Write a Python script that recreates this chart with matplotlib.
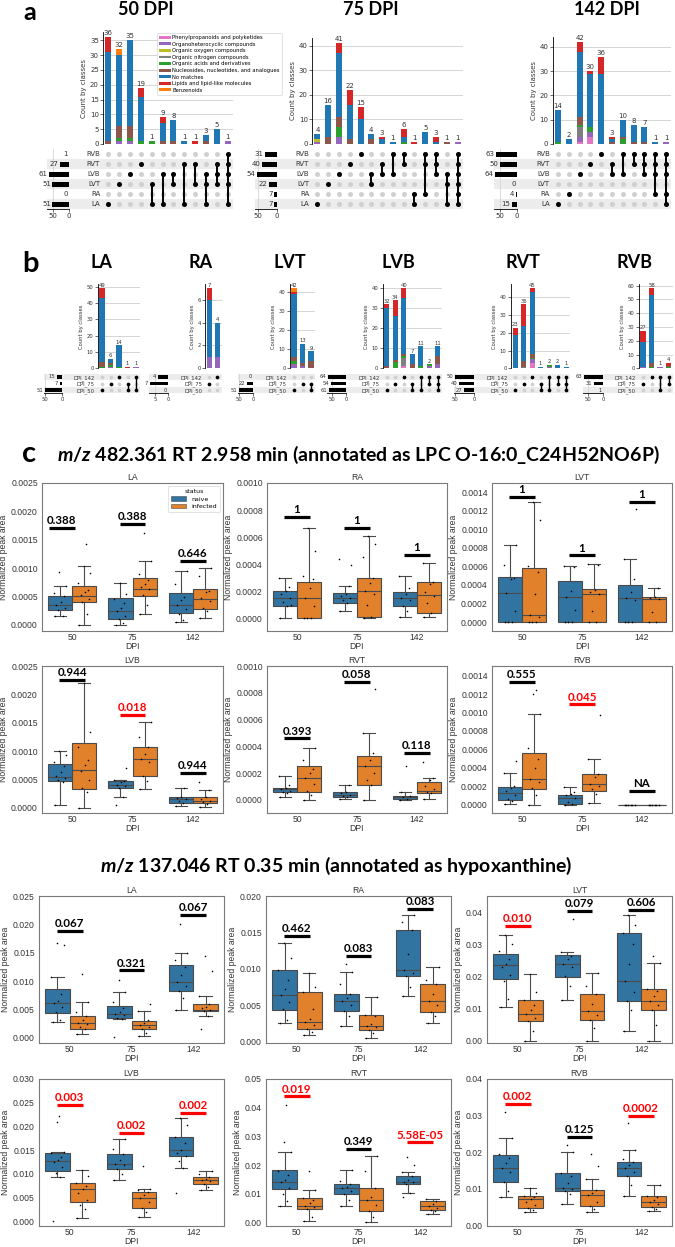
import numpy as np
import matplotlib.pyplot as plt
from matplotlib.patches import Patch, Rectangle

plt.rcParams['font.family'] = ['DejaVu Sans']
plt.rcParams['mathtext.fontset'] = 'custom'
plt.rcParams['mathtext.it'] = 'Lato:italic:bold'
plt.rcParams['mathtext.rm'] = 'Lato:bold'

# ---------------- data: class composition (upset plots) ----------------
cats = ['Phenylpropanoids and polyketides', 'Organoheterocyclic compounds',
        'Organic oxygen compounds', 'Organic nitrogen compounds',
        'Organic acids and derivatives', 'Nucleosides, nucleotides, and analogues',
        'No matches', 'Lipids and lipid-like molecules', 'Benzenoids']
cat_colors = ['#e377c2', '#9467bd', '#bcbd22', '#7f7f7f', '#2ca02c',
              '#8c564b', '#1f77b4', '#d62728', '#ff7f0e']

tissue_rows = ['RVB', 'RVT', 'LVB', 'LVT', 'RA', 'LA']
dpi_rows = ['DPI_142', 'DPI_75', 'DPI_50']

a50_cols = [['LA'], ['LVT'], ['LVB'], ['RVT'], ['LVT', 'LA'], ['LVB', 'LA'],
            ['LVB', 'LVT'], ['RVT', 'LA'], ['RVT', 'LVT'], ['LVB', 'LVT', 'LA'],
            ['RVT', 'LVB', 'LVT'], ['RVB', 'RVT', 'LVB', 'LVT', 'LA']]
a50_sizes = [1, 27, 61, 51, 0, 51]
a50_stack = {
    'Organoheterocyclic compounds': [0, 1, 1, 0, 0, 0, 0, 0, 0, 0, 0, 1],
    'Organic acids and derivatives': [0, 1, 1, 1, 1, 0, 0, 0, 0, 0, 0, 0],
    'Nucleosides, nucleotides, and analogues': [1, 4, 4, 0, 0, 1, 1, 0, 0, 1, 0, 0],
    'No matches': [30, 24, 29, 15, 0, 6, 7, 1, 0, 2, 5, 0],
    'Lipids and lipid-like molecules': [5, 0, 0, 3, 0, 2, 0, 0, 1, 0, 0, 0],
    'Benzenoids': [0, 2, 0, 0, 0, 0, 0, 0, 0, 0, 0, 0],
}

a75_cols = [['LA'], ['LVT'], ['LVB'], ['RVT'], ['RVB'], ['LVB', 'LVT'], ['RVT', 'LVB'],
            ['RVB', 'LVB'], ['RVB', 'RVT'], ['RA', 'LA'], ['RVB', 'RVT', 'RA'],
            ['RVB', 'RVT', 'LVB'], ['LVB', 'LVT', 'LA'],
            ['RVB', 'RVT', 'LVB', 'LVT', 'RA', 'LA']]
a75_sizes = [31, 40, 54, 22, 7, 7]
a75_stack = {
    'Organoheterocyclic compounds': [1, 0, 3, 0, 0, 0, 0, 0, 0, 0, 0, 0, 0, 1],
    'Organic oxygen compounds': [1, 0, 0, 0, 0, 0, 0, 0, 0, 0, 0, 0, 0, 0],
    'Organic acids and derivatives': [0, 0, 4, 0, 0, 0, 0, 0, 1, 0, 0, 0, 0, 0],
    'Nucleosides, nucleotides, and analogues': [0, 3, 4, 2, 0, 2, 0, 0, 0, 0, 0, 0, 1, 0],
    'No matches': [2, 13, 26, 14, 10, 2, 2, 1, 2, 0, 5, 1, 0, 0],
    'Lipids and lipid-like molecules': [0, 0, 4, 6, 5, 0, 1, 0, 3, 1, 0, 2, 0, 0],
}

a142_cols = [['LA'], ['RA'], ['LVB'], ['RVT'], ['RVB'], ['RVT', 'LVB'], ['RVB', 'LVB'],
             ['RVB', 'RVT'], ['RVB', 'RVT', 'LVB'], ['RVB', 'RVT', 'LVB', 'RA'],
             ['RVB', 'RVT', 'LVB', 'RA', 'LA']]
a142_sizes = [63, 50, 64, 0, 4, 15]
a142_stack = {
    'Phenylpropanoids and polyketides': [0, 0, 1, 3, 0, 0, 0, 0, 0, 0, 0],
    'Organoheterocyclic compounds': [0, 0, 2, 2, 0, 0, 0, 0, 0, 0, 1],
    'Organic nitrogen compounds': [0, 0, 4, 0, 0, 0, 0, 0, 0, 0, 0],
    'Organic acids and derivatives': [1, 0, 1, 2, 0, 0, 2, 0, 0, 0, 0],
    'Nucleosides, nucleotides, and analogues': [0, 0, 3, 0, 0, 1, 1, 1, 1, 0, 0],
    'No matches': [13, 2, 27, 22, 29, 1, 7, 7, 6, 1, 0],
    'Lipids and lipid-like molecules': [0, 0, 4, 1, 7, 1, 0, 0, 0, 0, 0],
}

b_cols = {
    'LA': [['DPI_50'], ['DPI_75'], ['DPI_142'], ['DPI_75', 'DPI_50'], ['DPI_142', 'DPI_50']],
    'RA': [['DPI_75'], ['DPI_142']],
    'LVT': [['DPI_50'], ['DPI_75'], ['DPI_75', 'DPI_50']],
    'LVB': [['DPI_50'], ['DPI_75'], ['DPI_142'], ['DPI_75', 'DPI_50'], ['DPI_142', 'DPI_50'],
            ['DPI_142', 'DPI_75'], ['DPI_142', 'DPI_75', 'DPI_50']],
    'RVT': [['DPI_50'], ['DPI_75'], ['DPI_142'], ['DPI_75', 'DPI_50'], ['DPI_142', 'DPI_50'],
            ['DPI_142', 'DPI_75'], ['DPI_142', 'DPI_75', 'DPI_50']],
    'RVB': [['DPI_75'], ['DPI_142'], ['DPI_142', 'DPI_50'], ['DPI_142', 'DPI_75']],
}
b_sizes = {'LA': [15, 7, 51], 'RA': [4, 7, 0], 'LVT': [0, 22, 51],
           'LVB': [64, 54, 61], 'RVT': [50, 40, 27], 'RVB': [63, 31, 1]}
b_stack = {
    'LA': {'Organoheterocyclic compounds': [0, 1, 0, 0, 1],
           'Organic acids and derivatives': [1, 1, 1, 0, 0],
           'Nucleosides, nucleotides, and analogues': [3, 1, 0, 0, 0],
           'No matches': [39, 3, 13, 0, 0],
           'Lipids and lipid-like molecules': [6, 0, 0, 1, 0]},
    'RA': {'Organoheterocyclic compounds': [1, 1],
           'No matches': [5, 3],
           'Lipids and lipid-like molecules': [1, 0]},
    'LVT': {'Organoheterocyclic compounds': [2, 1, 0],
            'Organic acids and derivatives': [2, 0, 0],
            'Nucleosides, nucleotides, and analogues': [2, 2, 4],
            'No matches': [33, 10, 5],
            'Lipids and lipid-like molecules': [1, 0, 0],
            'Benzenoids': [2, 0, 0]},
    'LVB': {'Phenylpropanoids and polyketides': [0, 0, 1, 0, 0, 0, 0],
            'Organoheterocyclic compounds': [0, 0, 0, 0, 0, 1, 2],
            'Organic nitrogen compounds': [0, 0, 4, 0, 0, 0, 0],
            'Organic acids and derivatives': [0, 3, 1, 0, 1, 1, 0],
            'Nucleosides, nucleotides, and analogues': [1, 1, 1, 2, 0, 0, 4],
            'No matches': [29, 22, 28, 5, 10, 0, 5],
            'Lipids and lipid-like molecules': [2, 8, 5, 0, 0, 0, 0]},
    'RVT': {'Phenylpropanoids and polyketides': [0, 0, 3, 0, 0, 0, 0],
            'Organoheterocyclic compounds': [0, 0, 2, 0, 1, 0, 0],
            'Organic nitrogen compounds': [0, 1, 0, 0, 0, 0, 0],
            'Organic acids and derivatives': [0, 0, 1, 0, 1, 0, 0],
            'Nucleosides, nucleotides, and analogues': [0, 3, 2, 0, 0, 0, 0],
            'No matches': [19, 20, 35, 1, 0, 2, 1],
            'Lipids and lipid-like molecules': [4, 12, 2, 0, 0, 0, 0]},
    'RVB': {'Organoheterocyclic compounds': [1, 0, 1, 0],
            'Organic acids and derivatives': [0, 1, 0, 1],
            'Nucleosides, nucleotides, and analogues': [0, 3, 0, 1],
            'No matches': [18, 49, 0, 0],
            'Lipids and lipid-like molecules': [8, 5, 0, 2]},
}

# ---------------- data: box plots (whislo, q1, median, q3, whishi) ----------------
dpi_labels = ['50', '75', '142']
status_labels = ['naive', 'infected']

# LPC O-16:0, values in units of 1e-4
lpc_scale = 1e-4
lpc_box = {
    'LA': [(1.5, 2.6, 3.6, 5.1, 6.8), (0.0, 4.0, 5.1, 6.9, 10.4), (0.0, 1.1, 2.4, 4.7, 7.4),
           (1.9, 5.1, 6.4, 8.2, 11.2), (0.6, 2.1, 3.5, 5.6, 9.5), (1.2, 2.8, 4.5, 6.4, 10.0)],
    'RA': [(0.0, 0.9, 1.5, 2.0, 3.0), (0.0, 0.0, 1.5, 2.7, 6.7), (0.5, 1.1, 1.5, 1.85, 2.4),
           (0.0, 0.1, 2.0, 3.0, 6.1), (0.1, 0.9, 1.5, 1.9, 3.1), (0.1, 0.4, 1.7, 2.7, 4.1)],
    'LVT': [(0.0, 0.0, 3.1, 4.9, 8.3), (0.0, 0.0, 0.8, 5.8, 13.0), (0.0, 0.0, 2.7, 4.4, 6.0),
            (0.0, 0.0, 3.0, 3.6, 6.3), (0.0, 0.0, 2.6, 4.0, 6.8), (0.0, 0.0, 2.5, 2.7, 3.7)],
    'LVB': [(0.5, 4.7, 5.4, 7.8, 10.0), (0.0, 3.4, 6.6, 11.5, 22.0), (2.0, 3.5, 4.1, 4.8, 5.0),
            (3.3, 5.6, 8.7, 10.8, 15.2), (0.3, 0.9, 1.5, 2.0, 3.5), (0.2, 0.9, 1.3, 2.0, 3.2)],
    'RVT': [(0.2, 0.6, 0.8, 0.9, 1.8), (0.0, 0.6, 1.6, 2.5, 3.9), (0.1, 0.2, 0.4, 0.6, 1.1),
            (0.0, 1.1, 2.5, 3.3, 5.0), (0.0, 0.1, 0.2, 0.3, 0.6), (0.1, 0.5, 0.7, 1.3, 1.6)],
    'RVB': [(0.1, 0.5, 1.3, 1.9, 3.4), (0.0, 1.7, 2.8, 5.6, 9.8), (0.0, 0.1, 0.7, 1.1, 1.9),
            (0.2, 1.5, 2.2, 3.3, 5.0), (0.0, 0.0, 0.0, 0.0, 0.0), (0.0, 0.0, 0.0, 0.0, 0.0)],
}
lpc_pts = {
    'LA': [[1.5, 1.6, 2.7, 3.0, 3.6, 4.1, 5.1, 5.6, 6.8, 9.3],
           [0.0, 2.0, 4.1, 4.6, 5.2, 5.8, 6.2, 7.4, 9.1, 10.4, 14.3],
           [0.0, 0.4, 1.0, 1.5, 2.4, 3.0, 3.8, 4.6, 5.5, 7.4],
           [1.9, 3.6, 5.3, 6.3, 6.7, 7.2, 8.0, 8.9, 11.2, 16.2],
           [0.6, 0.9, 2.0, 2.8, 3.5, 4.4, 5.0, 7.3, 9.5],
           [1.2, 2.4, 3.0, 4.3, 4.8, 5.8, 6.0, 8.6, 10.0]],
    'RA': [[0.0, 0.9, 1.2, 1.5, 1.8, 2.0, 2.3, 3.0, 1.0],
           [0.0, 0.0, 0.0, 0.9, 1.5, 2.2, 2.9, 3.1, 5.0, 6.7],
           [0.5, 1.1, 1.3, 1.5, 1.6, 1.8, 2.4, 4.4, 3.9],
           [0.0, 0.1, 1.0, 1.8, 2.0, 2.6, 3.0, 4.5, 5.5, 6.1],
           [0.1, 0.5, 0.9, 1.3, 1.5, 1.8, 2.2, 3.1],
           [0.1, 0.4, 1.1, 1.6, 1.9, 2.5, 2.7, 4.1]],
    'LVT': [[0.0, 0.0, 0.0, 1.2, 3.1, 4.6, 4.8, 6.1, 8.3],
            [0.0, 0.0, 0.0, 0.5, 0.8, 3.0, 5.4, 6.0, 11.0, 13.0],
            [0.0, 0.0, 0.0, 1.3, 2.7, 3.4, 5.9, 6.0],
            [0.0, 0.0, 1.2, 3.0, 3.2, 3.5, 6.2, 6.3],
            [0.0, 0.0, 0.0, 2.4, 2.6, 3.2, 4.6, 6.8, 12.2],
            [0.0, 0.0, 1.1, 2.5, 2.6, 2.7, 3.7]],
    'LVB': [[0.5, 4.5, 4.9, 5.3, 5.6, 6.3, 7.3, 8.0, 9.3, 10.0],
            [0.0, 2.8, 3.5, 5.0, 6.5, 7.6, 8.5, 10.8, 13.3, 22.0],
            [0.5, 2.0, 3.5, 3.8, 4.1, 4.5, 4.8, 5.0, 7.0],
            [3.3, 4.8, 5.7, 8.0, 8.6, 9.5, 10.7, 12.5, 15.2],
            [0.3, 0.8, 1.2, 1.5, 1.8, 2.0, 3.5],
            [0.2, 0.6, 1.0, 1.3, 1.6, 2.0, 3.2, 4.5]],
    'RVT': [[0.2, 0.5, 0.6, 0.7, 0.8, 0.9, 1.1, 1.8],
            [0.0, 0.4, 0.7, 1.2, 1.6, 2.0, 2.3, 3.0, 3.9],
            [0.1, 0.2, 0.3, 0.4, 0.5, 0.6, 1.1],
            [0.0, 1.1, 1.5, 2.0, 2.5, 3.0, 3.5, 5.0, 8.3],
            [0.0, 0.1, 0.2, 0.3, 0.6, 2.5],
            [0.1, 0.5, 0.6, 0.8, 1.0, 1.5, 1.6, 2.8]],
    'RVB': [[0.1, 0.4, 0.6, 1.1, 1.5, 1.8, 2.0, 3.4, 4.7],
            [0.0, 1.0, 1.8, 2.5, 2.8, 4.0, 5.0, 6.1, 9.8, 12.0, 12.4],
            [0.0, 0.1, 0.3, 0.7, 1.0, 1.2, 1.4, 1.9],
            [0.2, 1.2, 1.7, 2.0, 2.3, 3.0, 3.3, 5.0, 9.7],
            [0.0, 0.0, 0.0, 0.0, 0.0, 0.0],
            [0.0, 0.0, 0.0, 0.0, 0.0, 0.0]],
}
lpc_p = {'LA': ['0.388', '0.388', '0.646'], 'RA': ['1', '1', '1'], 'LVT': ['1', '1', '1'],
         'LVB': ['0.944', '0.018', '0.944'], 'RVT': ['0.393', '0.058', '0.118'],
         'RVB': ['0.555', '0.045', 'NA']}
lpc_p_y = {'LA': [17.1, 17.8, 11.3], 'RA': [7.5, 6.7, 4.7], 'LVT': [13.5, 7.2, 13.0],
           'LVB': [22.6, 16.4, 6.2], 'RVT': [4.6, 8.8, 3.5], 'RVB': [13.3, 10.9, 1.5]}
lpc_ylim = {'LA': (-1.06, 25), 'RA': (-0.96, 10), 'LVT': (-0.97, 15.0),
            'LVB': (-0.9, 25), 'RVT': (-0.98, 10), 'RVB': (-0.9, 15.05)}
lpc_ticks = {'LA': [0, 5, 10, 15, 20, 25], 'RA': [0, 2, 4, 6, 8, 10],
             'LVT': [0, 2, 4, 6, 8, 10, 12, 14], 'LVB': [0, 5, 10, 15, 20, 25],
             'RVT': [0, 2, 4, 6, 8, 10], 'RVB': [0, 2, 4, 6, 8, 10, 12, 14]}

# hypoxanthine, values in units of 1e-3
hyp_scale = 1e-3
hyp_box = {
    'LA': [(2.8, 4.4, 6.2, 8.6, 10.7), (0.6, 1.6, 2.7, 3.9, 6.4), (3.3, 3.5, 4.2, 5.7, 8.0),
           (0.3, 1.6, 2.2, 2.9, 4.7), (5.0, 8.2, 9.8, 12.8, 15.0), (3.9, 4.8, 5.0, 6.0, 7.3)],
    'RA': [(2.6, 4.4, 6.4, 9.8, 13.5), (1.0, 1.8, 2.7, 6.8, 9.5), (2.2, 4.3, 5.6, 6.5, 9.6),
           (0.5, 1.6, 2.2, 3.7, 6.2), (6.3, 9.0, 9.8, 15.3, 17.4), (2.6, 4.1, 5.6, 7.9, 10.2)],
    'LVT': [(10.6, 19.3, 23.5, 27.1, 33.0), (0.0, 6.0, 8.4, 12.7, 20.9),
            (12.7, 19.9, 24.0, 26.7, 27.7), (0.0, 6.4, 9.2, 14.5, 21.0),
            (3.1, 12.4, 18.5, 33.6, 39.2), (0.0, 9.7, 12.4, 16.1, 24.3)],
    'LVB': [(9.3, 10.7, 12.8, 14.4, 14.7), (0.6, 4.0, 6.7, 8.0, 10.8),
            (8.7, 11.0, 12.0, 14.2, 17.3), (1.0, 2.7, 5.0, 6.1, 6.7),
            (11.2, 13.7, 15.0, 17.8, 21.7), (6.5, 7.8, 8.8, 9.4, 10.5)],
    'RVT': [(5.9, 11.7, 14.3, 18.2, 24.6), (0.7, 4.7, 5.9, 8.5, 11.3),
            (5.9, 9.9, 12.0, 13.4, 18.3), (0.2, 4.2, 8.0, 12.2, 23.2),
            (10.5, 13.6, 14.3, 16.3, 17.7), (3.0, 4.4, 5.7, 7.4, 8.4)],
    'RVB': [(7.9, 12.0, 15.8, 19.2, 23.9), (3.8, 4.7, 7.2, 8.1, 10.4),
            (5.9, 9.5, 10.4, 14.4, 20.1), (3.8, 5.4, 8.3, 9.6, 12.8),
            (8.1, 13.5, 15.8, 17.4, 20.5), (4.1, 5.1, 6.5, 8.1, 11.0)],
}
hyp_pts = {
    'LA': [[2.8, 3.2, 4.5, 5.5, 6.1, 6.5, 7.8, 10.7, 16.3, 16.8],
           [0.6, 1.5, 2.0, 2.5, 2.7, 3.2, 3.9, 4.5, 6.4, 11.3],
           [0.1, 3.3, 3.5, 4.0, 4.2, 4.5, 5.2, 6.4, 8.0, 10.2],
           [0.3, 0.9, 1.6, 2.0, 2.2, 2.6, 3.1, 4.7, 6.0],
           [5.0, 7.0, 8.3, 9.2, 9.8, 11.0, 12.5, 13.8, 15.0, 20.0],
           [1.5, 3.9, 4.8, 5.0, 5.2, 5.5, 6.0, 7.3, 11.8, 14.5]],
    'RA': [[2.6, 3.0, 4.5, 5.5, 6.4, 7.2, 8.5, 9.8, 11.5, 13.5],
           [1.0, 1.3, 1.8, 2.3, 2.7, 3.2, 4.5, 6.8, 7.5, 9.5],
           [2.2, 3.5, 4.3, 5.0, 5.6, 6.0, 6.5, 8.0, 9.6, 10.7],
           [0.5, 1.2, 1.6, 2.0, 2.2, 2.5, 3.5, 3.7, 6.2],
           [6.3, 7.5, 9.0, 9.5, 9.8, 12.0, 15.3, 16.5, 17.4],
           [2.6, 3.5, 4.1, 5.0, 5.6, 6.5, 7.9, 8.5, 10.2]],
    'LVT': [[10.6, 13.0, 18.5, 20.5, 23.0, 24.0, 25.5, 28.0, 30.0, 33.0],
            [0.0, 3.0, 6.0, 7.0, 8.4, 9.5, 11.0, 12.7, 15.0, 20.9],
            [12.7, 17.0, 20.0, 23.0, 24.0, 25.5, 26.5, 27.7, 38.0],
            [0.0, 4.0, 6.4, 8.0, 9.2, 11.5, 14.5, 17.0, 21.0],
            [3.1, 9.5, 12.4, 15.0, 18.5, 24.0, 30.0, 33.6, 36.0, 39.2],
            [0.0, 5.0, 9.7, 11.0, 12.4, 14.0, 15.5, 16.1, 24.3, 26.5]],
    'LVB': [[0.0, 9.3, 10.2, 11.5, 12.5, 13.0, 13.5, 14.4, 14.7, 21.0, 22.2],
            [0.6, 2.5, 3.5, 4.5, 6.0, 6.7, 7.5, 8.0, 9.5, 10.8],
            [8.7, 10.0, 11.0, 11.8, 12.0, 13.0, 14.2, 15.3, 17.3],
            [1.0, 2.0, 2.7, 4.0, 5.0, 5.5, 6.1, 6.5, 6.7, 11.7],
            [5.9, 11.2, 12.8, 13.7, 14.5, 15.0, 16.5, 17.8, 20.2, 21.7],
            [6.5, 7.2, 7.8, 8.5, 8.8, 9.0, 9.4, 10.0, 10.5]],
    'RVT': [[5.9, 7.5, 10.0, 12.0, 14.0, 15.0, 16.5, 18.0, 24.6, 28.0, 41.0],
            [0.7, 2.0, 4.7, 5.5, 5.9, 7.0, 8.0, 8.5, 11.3, 18.0],
            [5.9, 8.0, 9.9, 11.0, 12.0, 12.5, 13.4, 14.5, 18.3],
            [0.2, 2.0, 4.2, 6.0, 8.0, 9.0, 12.2, 18.0, 23.2],
            [9.0, 10.5, 13.6, 14.0, 14.3, 15.0, 16.3, 17.7, 20.0, 23.0],
            [3.0, 4.0, 4.4, 5.0, 5.7, 6.5, 7.4, 8.4]],
    'RVB': [[7.9, 9.5, 12.0, 14.5, 15.8, 17.0, 18.5, 19.5, 23.9, 31.0],
            [3.8, 4.2, 4.7, 5.5, 6.5, 7.2, 7.8, 8.1, 9.0, 10.4],
            [5.9, 8.5, 9.5, 10.0, 10.4, 11.5, 13.5, 14.4, 20.1, 22.0],
            [3.8, 4.5, 5.4, 6.5, 8.3, 9.0, 9.6, 12.8, 16.2, 19.6],
            [8.1, 11.0, 13.5, 14.5, 15.8, 16.5, 17.4, 18.2, 20.5, 28.0],
            [4.1, 4.6, 5.1, 5.8, 6.5, 7.0, 7.8, 8.1, 11.0]],
}
hyp_p = {'LA': ['0.067', '0.321', '0.067'], 'RA': ['0.462', '0.083', '0.083'],
         'LVT': ['0.010', '0.079', '0.606'], 'LVB': ['0.003', '0.002', '0.002'],
         'RVT': ['0.019', '0.349', '5.58E-05'], 'RVB': ['0.002', '0.125', '0.0002']}
hyp_p_y = {'LA': [18.9, 11.9, 21.7], 'RA': [14.5, 11.8, 18.2], 'LVT': [35.7, 40.4, 40.7],
           'LVB': [24.5, 18.6, 22.9], 'RVT': [44.0, 25.7, 28.0], 'RVB': [33.2, 24.3, 29.9]}
hyp_ylim = {'LA': (-0.9, 25), 'RA': (-0.15, 20), 'LVT': (-0.7, 45),
            'LVB': (-1.0, 30), 'RVT': (-1.15, 50), 'RVB': (-0.1, 40)}
hyp_ticks = {'LA': [0, 5, 10, 15, 20, 25], 'RA': [0, 5, 10, 15, 20],
             'LVT': [0, 10, 20, 30, 40], 'LVB': [0, 5, 10, 15, 20, 25, 30],
             'RVT': [0, 10, 20, 30, 40, 50], 'RVB': [0, 10, 20, 30, 40]}
hyp_fmt = {'LA': '{:.3f}', 'RA': '{:.3f}', 'LVT': '{:.2f}', 'LVB': '{:.3f}',
           'RVT': '{:.2f}', 'RVB': '{:.2f}'}

box_colors = ['#3274a1', '#e1812c']
jit = [-0.08, 0.04, -0.03, 0.08, -0.06, 0.01, 0.06, -0.1, 0.1, -0.01, 0.03]

# ---------------- figure ----------------
W, H = 675, 1247
fig = plt.figure(figsize=(W / 100, H / 100), dpi=100)


def add_px(x0, y0, x1, y1):
    return fig.add_axes([x0 / W, 1 - y1 / H, (x1 - x0) / W, (y1 - y0) / H])


def upset(bx, by, my, tx, tmax, tticks, rows, cols, stack, sizes, fs, ms, lw, bw):
    n = len(cols)
    m = len(rows)
    ax = add_px(bx[0], by[0], bx[1], by[1])
    bottom = np.zeros(n)
    for c, col in zip(cats, cat_colors):
        if c in stack:
            v = np.array(stack[c], dtype=float)
            ax.bar(range(n), v, bw, bottom=bottom, color=col, zorder=3)
            bottom += v
    top = bottom.max() * 1.05
    for i, v in enumerate(bottom):
        ax.text(i, v + top * 0.008, str(int(v)), ha='center', va='bottom',
                fontsize=fs, color='#333333')
    ax.set_xlim(-0.5, n - 0.5)
    ax.set_ylim(0, top)
    ax.set_xticks([])
    ax.grid(axis='y', color='#d5d5d5', lw=0.7, zorder=0)
    for s in ['top', 'right', 'bottom']:
        ax.spines[s].set_visible(False)
    ax.spines['left'].set_linewidth(0.6)
    ax.tick_params(axis='y', labelsize=fs, length=2, width=0.5, pad=1, colors='#333333')
    ax.set_ylabel('Count by classes', fontsize=fs, color='#333333', labelpad=2)

    mx = add_px(bx[0], my[0], bx[1], my[1])
    mx.set_facecolor('none')
    for i, col in enumerate(cols):
        ys = [m - 1 - rows.index(r) for r in col]
        mx.scatter([i] * m, range(m), s=ms, c='#d0d0d0', lw=0, zorder=2)
        mx.scatter([i] * len(ys), ys, s=ms, c='k', lw=0, zorder=3)
        if len(ys) > 1:
            mx.plot([i, i], [min(ys), max(ys)], color='k', lw=lw, zorder=2)
    mx.set_xlim(-0.5, n - 0.5)
    mx.set_ylim(-0.5, m - 0.5)
    mx.set_xticks([])
    mx.set_yticks(range(m))
    mx.set_yticklabels(rows[::-1])
    mx.tick_params(length=0, labelsize=fs, pad=2, colors='#333333')
    for s in mx.spines.values():
        s.set_visible(False)

    rh = (my[1] - my[0]) / m
    for j in range(m):
        if (m - 1 - j) % 2 == 0:
            fig.add_artist(Rectangle((tx[0] / W, 1 - (my[0] + (j + 1) * rh) / H),
                                     (bx[1] - tx[0]) / W, rh / H, transform=fig.transFigure,
                                     color='#ececec', zorder=-1, lw=0))

    tax = add_px(tx[0], my[0], tx[1], my[1])
    tax.set_facecolor('none')
    tax.barh([m - 1 - k for k in range(m)], sizes, height=0.5, color='k', zorder=3)
    for k, s in enumerate(sizes):
        tax.annotate(str(s), (s, m - 1 - k), xytext=(-1, 0), textcoords='offset points',
                     ha='right', va='center', fontsize=fs, color='#333333')
    tax.set_xlim(tmax, 0)
    tax.set_ylim(-0.5, m - 0.5)
    tax.set_yticks([])
    tax.set_xticks(tticks)
    tax.grid(axis='x', color='#d5d5d5', lw=0.6, zorder=0)
    for s in ['top', 'right', 'left']:
        tax.spines[s].set_visible(False)
    tax.spines['bottom'].set_linewidth(0.6)
    tax.tick_params(labelsize=fs, length=2, width=0.5, pad=1, colors='#333333')
    return ax


def boxpanel(ext, title, stats, pts, scale, ylim, yticks, fmt, pv, py, px, legend=False):
    ax = add_px(*ext)
    pos = [g + d for g in range(3) for d in (-0.2, 0.2)]
    bxs = []
    for st in stats:
        lo, q1, md, q3, hi = [v * scale for v in st]
        bxs.append(dict(whislo=lo, q1=q1, med=md, q3=q3, whishi=hi, fliers=[]))
    lc = '#4a4a4a'
    art = ax.bxp(bxs, positions=pos, widths=0.4, patch_artist=True, showfliers=False,
                 boxprops=dict(edgecolor=lc, lw=0.8), medianprops=dict(color=lc, lw=0.8),
                 whiskerprops=dict(color=lc, lw=0.8), capprops=dict(color=lc, lw=0.8))
    for k, b in enumerate(art['boxes']):
        b.set_facecolor(box_colors[k % 2])
    for k in range(6):
        vals = np.array(pts[k]) * scale
        xs = pos[k] + np.array([jit[j % len(jit)] for j in range(len(vals))])
        ax.scatter(xs, vals, s=1.3, c='k', lw=0, zorder=5)
    for g in range(3):
        col = 'red' if pv[g] != 'NA' and float(pv[g]) < 0.05 else 'black'
        x = g + px[g]
        y = py[g] * scale
        ax.plot([x - 0.21, x + 0.21], [y, y], color=col, lw=2.3, solid_capstyle='butt', zorder=6)
        ax.annotate(pv[g], (x, y), xytext=(0, 1.2), textcoords='offset points', ha='center',
                    va='bottom', fontsize=8.3, fontweight='bold', family='Lato', color=col)
    ax.set_xlim(-0.5, 2.5)
    ax.set_ylim(ylim[0] * scale, ylim[1] * scale)
    ax.set_xticks(range(3))
    ax.set_xticklabels(dpi_labels)
    ax.set_yticks([t * scale for t in yticks])
    ax.set_yticklabels([fmt.format(t * scale) for t in yticks])
    ax.tick_params(axis='y', length=0, labelsize=6.2, colors='#333333', pad=3)
    ax.tick_params(axis='x', length=0, labelsize=6.2, colors='#333333', pad=1.5)
    for lab in ax.get_xticklabels() + ax.get_yticklabels():
        lab.set_family('Liberation Sans')
    ax.set_xlabel('DPI', fontsize=6.2, color='#333333', family='Liberation Sans', labelpad=0)
    ax.set_ylabel('Normalized peak area', fontsize=6.2, color='#333333',
                  family='Liberation Sans', labelpad=2)
    ax.set_title(title, fontsize=6.2, color='#333333', family='Liberation Sans', pad=2)
    for s in ax.spines.values():
        s.set_color('#7a7a7a')
        s.set_linewidth(0.8)
    if legend:
        hs = [Patch(facecolor=box_colors[0], edgecolor=lc, lw=0.4),
              Patch(facecolor=box_colors[1], edgecolor=lc, lw=0.4)]
        lg = ax.legend(hs, status_labels, title='status', loc='upper right', fontsize=4.5,
                       title_fontsize=4.5, frameon=True, edgecolor='#cccccc', fancybox=True,
                       handlelength=2.4, handleheight=0.8, borderpad=0.5, labelspacing=0.3)
        lg.get_frame().set_linewidth(0.5)
    return ax


# ---------- panel a ----------
upset((103, 233), (32, 144), (149, 209), (47, 69), 67, [50, 0], tissue_rows,
      a50_cols, a50_stack, a50_sizes, 5, 13, 1.4, 0.55)
upset((312, 463), (38, 144), (149, 209), (255, 277), 58, [50, 0], tissue_rows,
      a75_cols, a75_stack, a75_sizes, 5, 13, 1.4, 0.55)
upset((552.6, 671.4), (37, 144), (149, 209), (494, 517), 67.6, [50, 0], tissue_rows,
      a142_cols, a142_stack, a142_sizes, 5, 13, 1.4, 0.55)

fig.legend([Patch(facecolor=c) for c in cat_colors], cats, loc='upper left',
           bbox_to_anchor=(157 / W, 1 - 33 / H), fontsize=3.8, frameon=True,
           edgecolor='#cccccc', borderpad=0.4, labelspacing=0.3, handlelength=2.2,
           handleheight=0.45, handletextpad=0.3, borderaxespad=0).get_frame().set_linewidth(0.5)

title_kw = dict(fontsize=13, fontweight='bold', family='Lato', ha='center', va='baseline')
fig.text(23 / W, 1 - 19.5 / H, 'a', fontsize=18, fontweight='bold', family='Lato',
         va='baseline')
fig.text(146 / W, 1 - 15 / H, '50 DPI', **title_kw)
fig.text(371 / W, 1 - 15 / H, '75 DPI', **title_kw)
fig.text(607 / W, 1 - 15 / H, '142 DPI', **title_kw)

# ---------- panel b ----------
b_geom = {  # bar x-range, totals x-range, totals xmax, totals ticks, title x
    'LA': ((97.75, 140.25), (44, 62), 53, [50, 0], 101),
    'RA': ((204.9, 221.5), (149, 168), 7.3, [5, 0], 201),
    'LVT': ((289.75, 315.25), (238, 253), 53.6, [50, 0], 290),
    'LVB': ((382.5, 442), (327, 346), 68, [50, 0], 398),
    'RVT': ((510.8, 570.3), (454, 474), 52.6, [50, 0], 523),
    'RVB': ((638.75, 672.75), (583, 603), 66.7, [50, 0], 635),
}
fig.text(22 / W, 1 - 272 / H, 'b', fontsize=21, fontweight='bold', family='Lato', va='baseline')
for t, (bx, tx, tmax, tt, cx) in b_geom.items():
    upset(bx, (284.5, 368.3), (373.75, 393.25), tx, tmax, tt, dpi_rows,
          b_cols[t], b_stack[t], b_sizes[t], 3.8, 7, 1.0, 0.6)
    fig.text(cx / W, 1 - 268 / H, t, **title_kw)

# ---------- panel c ----------
fig.text(22 / W, 1 - 462 / H, 'c', fontsize=21, fontweight='bold', family='Lato', va='baseline')
fig.text(358 / W, 1 - 461 / H,
         r'$\it{m/z}$ 482.361 RT 2.958 min (annotated as LPC O-16:0_C24H52NO6P)',
         fontsize=14, fontweight='bold', family='Lato', ha='center', va='baseline')
fig.text(336 / W, 1 - 872 / H,
         r'$\it{m/z}$ 137.046 RT 0.35 min (annotated as hypoxanthine)',
         fontsize=14, fontweight='bold', family='Lato', ha='center', va='baseline')

lpc_ext = {'LA': (42, 483, 223, 631), 'RA': (267, 483, 447, 631), 'LVT': (492, 483, 672, 631),
           'LVB': (42, 666, 223, 813), 'RVT': (267, 666, 447, 813), 'RVB': (492, 666, 672, 813)}
hyp_ext = {'LA': (39, 896, 224, 1043), 'RA': (266, 896, 451, 1043), 'LVT': (487, 896, 672, 1043),
           'LVB': (39, 1079, 224, 1226), 'RVT': (266, 1079, 451, 1226),
           'RVB': (487, 1079, 672, 1226)}
for t in lpc_ext:
    px = [-0.17, 0, 0] if t == 'LA' else [0, 0, 0]
    boxpanel(lpc_ext[t], t, lpc_box[t], lpc_pts[t], lpc_scale, lpc_ylim[t], lpc_ticks[t],
             '{:.4f}', lpc_p[t], lpc_p_y[t], px, legend=(t == 'LA'))
for t in hyp_ext:
    boxpanel(hyp_ext[t], t, hyp_box[t], hyp_pts[t], hyp_scale, hyp_ylim[t], hyp_ticks[t],
             hyp_fmt[t], hyp_p[t], hyp_p_y[t], [0, 0, 0])

fig.savefig('out.png', dpi=100)
